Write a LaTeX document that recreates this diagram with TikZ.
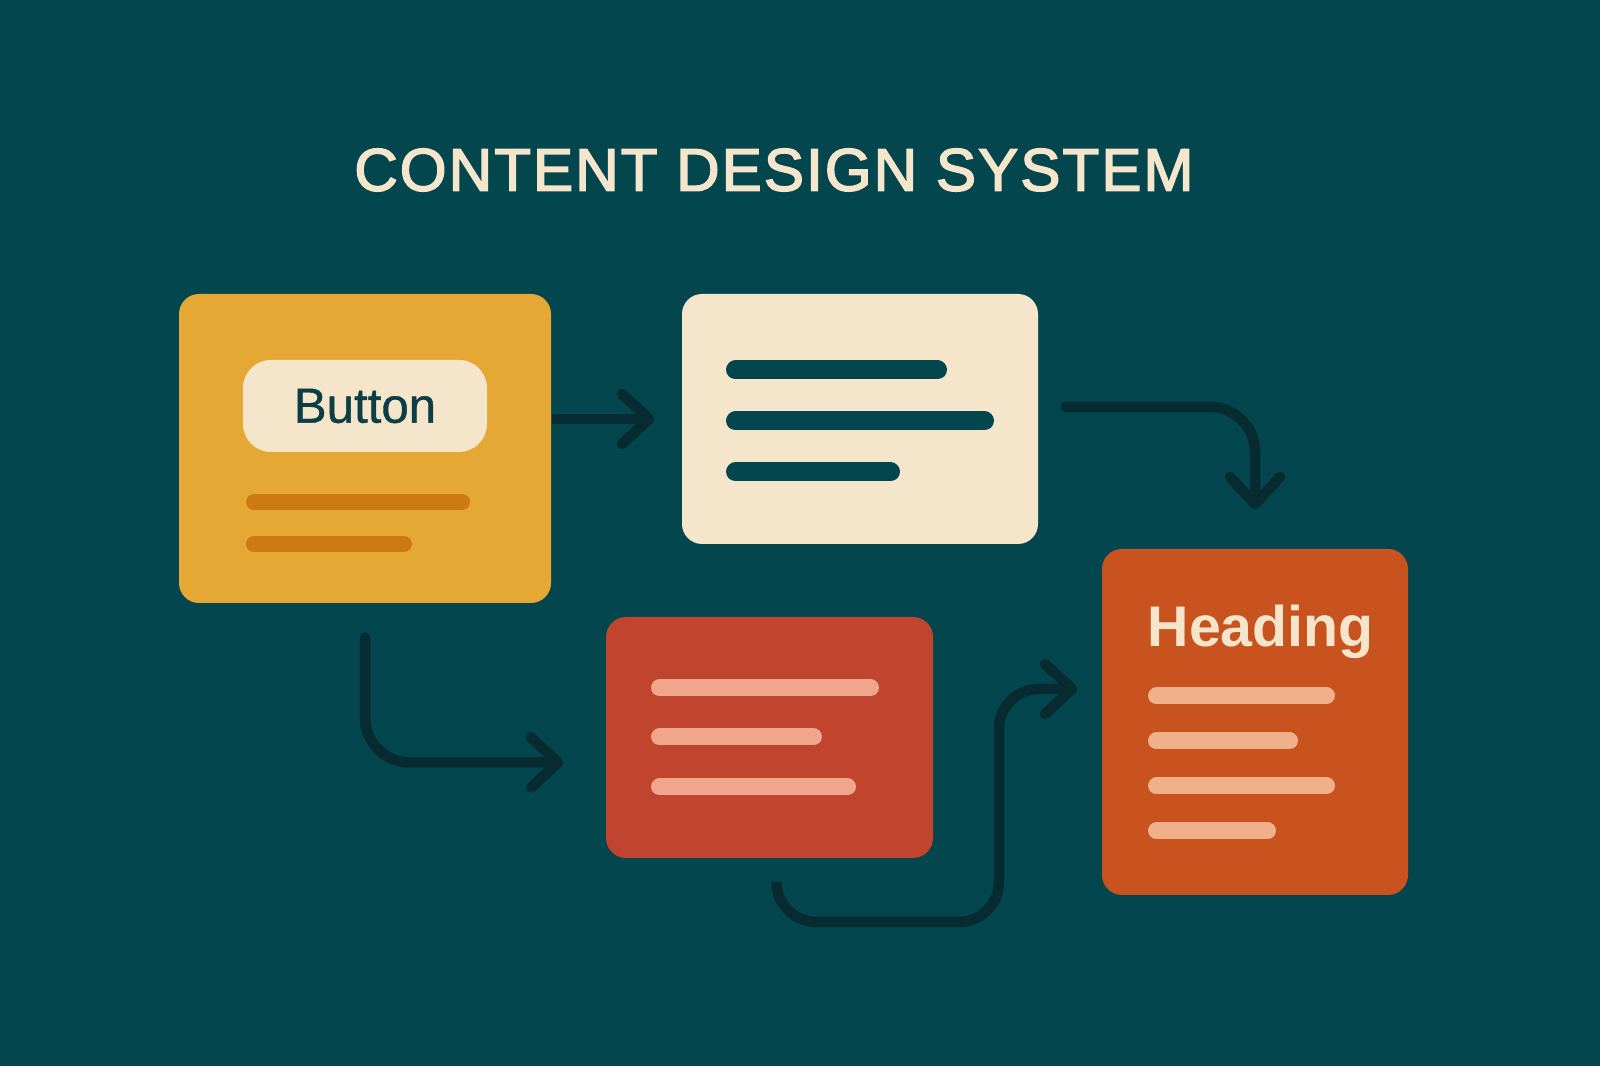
\documentclass[tikz,border=0pt]{standalone}
\usepackage{fontspec}
\setmainfont{Liberation Sans}
\newfontfamily\titlefont[LetterSpace=3.5, FakeBold=2.6]{Liberation Sans}
\newfontfamily\buttonfont[FakeBold=0.8]{Liberation Sans}
\usetikzlibrary{arrows.meta}

\definecolor{bgteal}{HTML}{03464E}
\definecolor{connector}{HTML}{072B30}
\definecolor{cardyellow}{HTML}{E6A835}
\definecolor{lineyellow}{HTML}{CE7A12}
\definecolor{cardcream}{HTML}{F5E6CB}
\definecolor{cardred}{HTML}{C1442E}
\definecolor{linered}{HTML}{EFA68C}
\definecolor{cardorange}{HTML}{C9531F}
\definecolor{lineorange}{HTML}{EFB08A}
\definecolor{buttontext}{HTML}{0B3F45}

\tikzset{
    card/.style={rounded corners=0.2cm, inner sep=0pt},
    textbar/.style={line width=0.17cm, line cap=round},
    conn/.style={draw=connector, line width=0.105cm, line cap=round, rounded corners=0.45cm,
        -{Straight Barb[length=0.27cm, width=0.5cm, round]}},
}

\begin{document}
\begin{tikzpicture}
    \fill[bgteal] (0,0) rectangle (16,10.66);

    % title
    \node[text=cardcream, inner sep=0pt, font=\titlefont\fontsize{17.1}{20}\selectfont] (title) at (7.74,8.96) {CONTENT DESIGN SYSTEM};

    % cards
    \node[card, fill=cardyellow, minimum width=3.72cm, minimum height=3.09cm] (yel) at (3.65,6.175) {};
    \node[card, fill=cardcream, minimum width=3.56cm, minimum height=2.50cm] (cream) at (8.60,6.47) {};
    \node[card, fill=cardred, minimum width=3.27cm, minimum height=2.41cm] (red) at (7.695,3.285) {};
    \node[card, fill=cardorange, minimum width=3.06cm, minimum height=3.46cm] (orange) at (12.55,3.44) {};

    % yellow card
    \node[card, rounded corners=0.28cm, fill=cardcream, text=buttontext, font=\buttonfont\fontsize{14}{16}\selectfont,
        minimum width=2.44cm, minimum height=0.92cm] (button) at (3.65,6.60) {Button};
    \draw[textbar, lineyellow, line width=0.16cm] (2.54,5.64) -- (4.62,5.64);
    \draw[textbar, lineyellow, line width=0.16cm] (2.54,5.22) -- (4.04,5.22);

    % cream card
    \draw[textbar, bgteal, line width=0.19cm] (7.355,6.96) -- (9.375,6.96);
    \draw[textbar, bgteal, line width=0.19cm] (7.355,6.45) -- (9.845,6.45);
    \draw[textbar, bgteal, line width=0.19cm] (7.355,5.94) -- (8.905,5.94);

    % red card
    \draw[textbar, linered] (6.595,3.78) -- (8.705,3.78);
    \draw[textbar, linered] (6.595,3.29) -- (8.135,3.29);
    \draw[textbar, linered] (6.595,2.79) -- (8.475,2.79);

    % orange card
    \node[anchor=base west, text=cardcream, inner sep=0pt, font=\bfseries\fontsize{16.3}{18}\selectfont] (heading) at (11.47,4.19) {Heading};
    \draw[textbar, lineorange] (11.565,3.70) -- (13.265,3.70);
    \draw[textbar, lineorange] (11.565,3.25) -- (12.895,3.25);
    \draw[textbar, lineorange] (11.565,2.80) -- (13.265,2.80);
    \draw[textbar, lineorange] (11.565,2.35) -- (12.675,2.35);

    % connectors
    \draw[conn, line cap=butt, shorten >=0.27cm] (yel.east |- cream.west) -- (cream.west);
    \draw[conn, shorten <=0.27cm, shorten >=0.39cm] ([yshift=0.12cm]cream.east) -| (orange.north);
    \draw[conn, shorten <=0.34cm, shorten >=0.42cm] (yel.south) |- ([yshift=-0.25cm]red.west);
    \coordinate (loop) at (9.99,1.44);
    \draw[conn, rounded corners=0.4cm, shorten <=0.25cm, shorten >=0.24cm]
        ([xshift=0.07cm]red.south) |- (loop) |- ([yshift=0.33cm]orange.west);
\end{tikzpicture}
\end{document}
